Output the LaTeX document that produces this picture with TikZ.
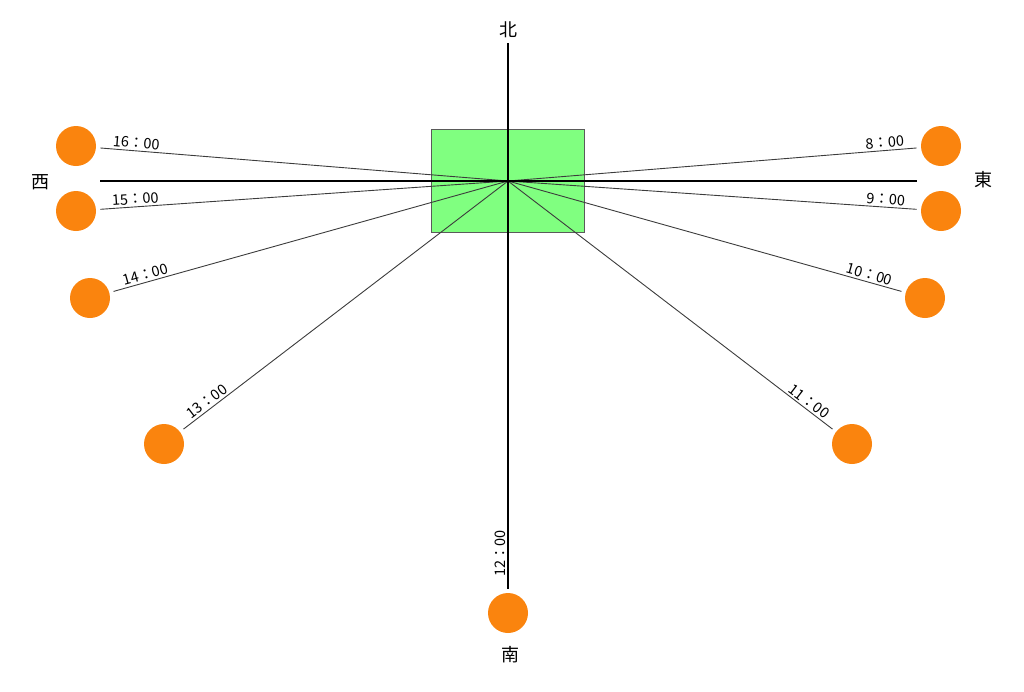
\documentclass[tikz,border=0pt]{standalone}
\usepackage{fontspec}
\setmainfont{Noto Sans CJK JP}
\definecolor{sunorange}{RGB}{250,132,14}
\definecolor{housegreen}{RGB}{128,255,128}
\definecolor{rayline}{RGB}{60,60,60}
\begin{document}
\begin{tikzpicture}[x=1pt,y=-1pt,
  sun/.style={circle,fill=sunorange,draw=none,minimum size=40pt,inner sep=0pt,outer sep=4.5pt},
  ray/.style={draw=rayline,line width=0.9pt},
  axis/.style={draw=black,line width=2.6pt},
  lbl/.style={font=\fontsize{14.5}{14.5}\selectfont,sloped,inner xsep=1pt,inner ysep=2pt},
  dir/.style={font=\fontsize{18}{18}\selectfont,inner sep=0pt}]
\useasboundingbox (0,0) rectangle (1024,691);
\node[draw={rgb,255:red,90;green,90;blue,90},line width=0.8pt,fill=housegreen,minimum width=153pt,minimum height=103pt,inner sep=0pt] (house) at (508,180.5) {};
\coordinate (c) at (508,181);
\node[sun] (s16) at (76,146) {};
\node[sun] (s15) at (76,211) {};
\node[sun] (s14) at (90,298) {};
\node[sun] (s13) at (164,444) {};
\node[sun] (s12) at (508,613) {};
\node[sun] (s11) at (852,444) {};
\node[sun] (s10) at (925,298) {};
\node[sun] (s9) at (941,211) {};
\node[sun] (s8) at (941,146) {};
\draw[ray] (s16) -- (c) node[lbl,pos=0.026,anchor=south west]{16：00};
\draw[ray] (s15) -- (c) node[lbl,pos=0.026,anchor=south west]{15：00};
\draw[ray] (s14) -- (c) node[lbl,pos=0.026,anchor=south west]{14：00};
\draw[ray] (s13) -- (c) node[lbl,pos=0.026,anchor=south west]{13：00};
\draw[ray] (c) -- (s11) node[lbl,pos=0.974,anchor=south east]{11：00};
\draw[ray] (c) -- (s10) node[lbl,pos=0.974,anchor=south east]{10：00};
\draw[ray] (c) -- (s9) node[lbl,pos=0.974,anchor=south east]{9：00};
\draw[ray] (c) -- (s8) node[lbl,pos=0.974,anchor=south east]{8：00};
\coordinate (n) at (508,43);
\coordinate (w) at (100,181);
\coordinate (e) at (917,181);
\draw[axis] (w) -- (e);
\draw[axis] (n) -- (s12);
\path (s12) -- (c) node[lbl,pos=0.026,anchor=south west]{12：00};
\node[dir] (north) at (508,30) {北};
\node[dir] (south) at (510,655) {南};
\node[dir] (west) at (40,182) {西};
\node[dir] (east) at (983,180) {東};
\end{tikzpicture}
\end{document}
